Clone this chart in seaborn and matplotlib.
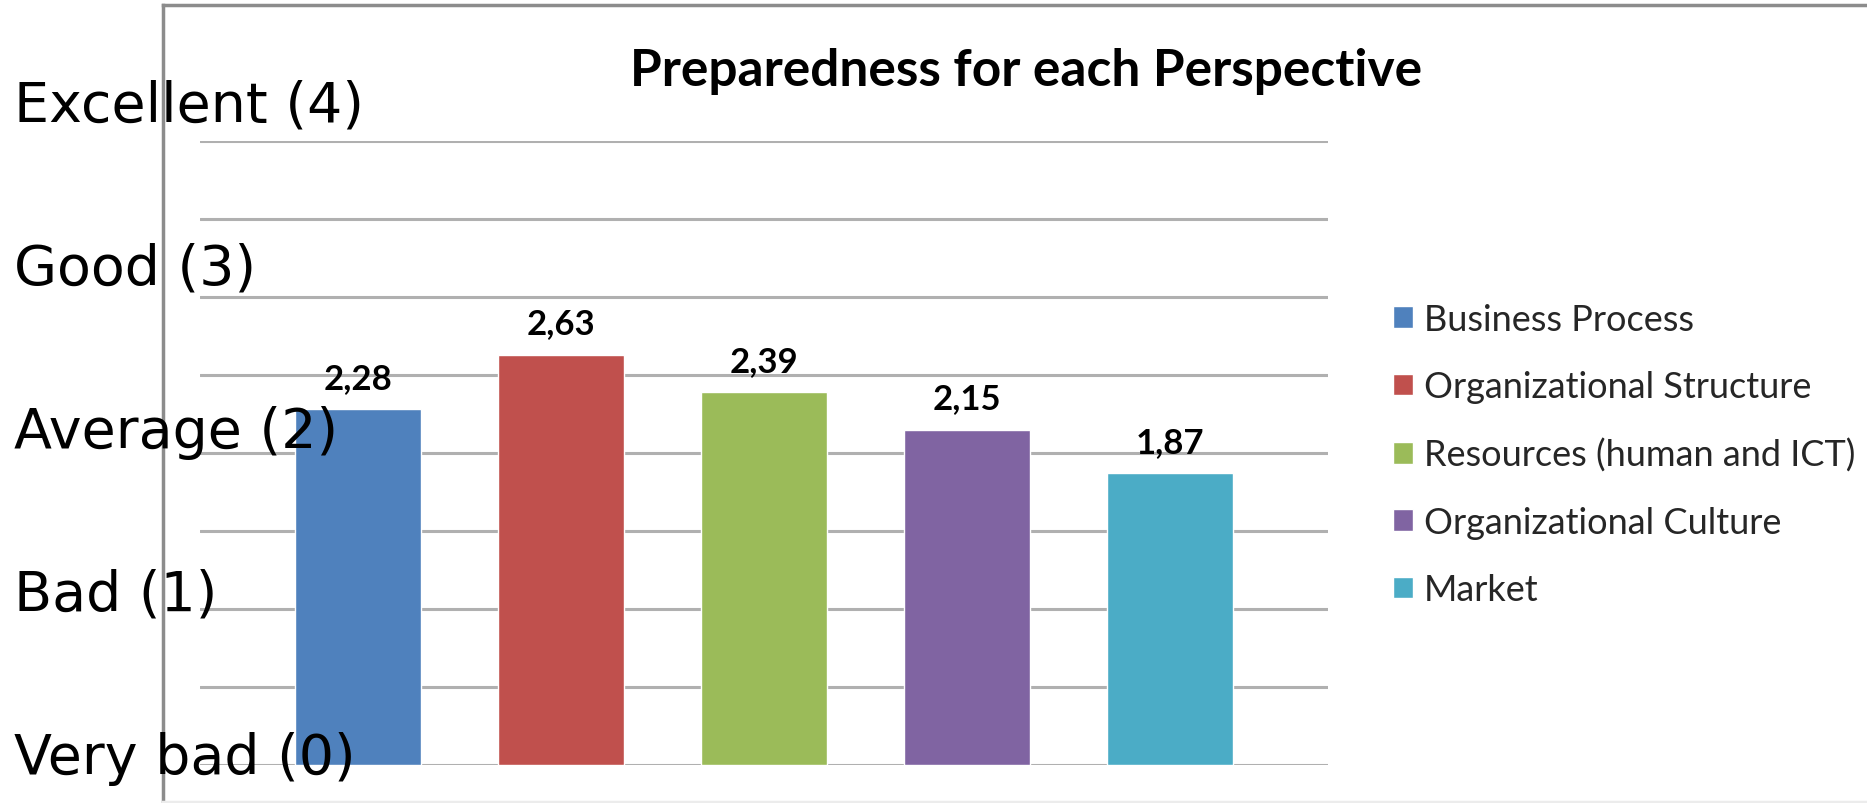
import numpy as np
import pandas as pd
import seaborn as sns
from matplotlib import pyplot as plt

sns.set_style("white")
plt.rcParams['font.family'] = ['Lato', 'DejaVu Sans']

# data
perspectives = ["Business Process", "Organizational Structure",
                "Resources (human and ICT)", "Organizational Culture", "Market"]
scores = [2.28, 2.63, 2.39, 2.15, 1.87]
colors = ["#4F81BD", "#C0504D", "#9BBB59", "#8064A2", "#4BACC6"]
level_names = ["Very bad (0)", "Bad (1)", "Average (2)", "Good (3)", "Excellent (4)"]
level_values = [0, 1, 2, 3, 4]

df = pd.DataFrame({"perspective": perspectives, "score": scores})

W, H = 1867, 804
fig = plt.figure(figsize=(W / 100, H / 100), dpi=100)

# outer chart frame (excel style box)
frame = fig.add_axes([163 / W, 1 - 803 / H, 1.0, (803 - 6) / H], zorder=0)
frame.set_xticks([])
frame.set_yticks([])
for s in frame.spines.values():
    s.set_color("#8c8c8c")
    s.set_linewidth(2.5)
frame.spines["bottom"].set_color("#ececec")

ax = fig.add_axes([200 / W, 38.4 / H, (1328 - 200) / W, 623.3 / H], zorder=1)
ax.patch.set_alpha(0)
sns.barplot(data=df, x="perspective", y="score", hue="perspective",
            palette=colors, width=0.62, ax=ax, legend=True, saturation=1)
ax.set_yticks(np.arange(0, 4.01, 0.5))
ax.set_ylim(0, 4)
ax.set_xlim(-0.78, 4.78)
ax.yaxis.grid(True, color="#b0b0b0", linewidth=2.2)
ax.set_axisbelow(True)
ax.tick_params(left=False, bottom=False, labelleft=False, labelbottom=False)
ax.set_xlabel("")
ax.set_ylabel("")
sns.despine(ax=ax, left=True, bottom=True)

for c in ax.containers:
    ax.bar_label(c, labels=[f"{v:.2f}".replace(".", ",") for v in c.datavalues],
                 padding=11, fontsize=25, fontweight="bold", color="black")

sns.move_legend(ax, "center left", bbox_to_anchor=(1393 / W, 0.4334),
                bbox_transform=fig.transFigure, frameon=False, title=None,
                fontsize=26, labelspacing=0.95, handlelength=0.55,
                handleheight=0.55, handletextpad=0.3, borderpad=0,
                borderaxespad=0)

fig.text(1026 / W, 0.911, "Preparedness for each Perspective", ha="center",
         va="center", fontsize=37, fontweight="bold", color="black")

# overlaid level names on their own scale (full figure height)
lab = fig.add_axes([200 / W, 0, 0.01, 1], zorder=3)
lab.patch.set_alpha(0)
lab.set_xticks([])
lab.set_yticks(level_values)
lab.set_yticklabels(level_names, family="DejaVu Sans", fontsize=40,
                    ha="left", color="black")
lab.set_ylim(-0.316, 4.620)
lab.tick_params(axis="y", length=0, pad=134)
for s in lab.spines.values():
    s.set_visible(False)

plt.savefig("out.png", dpi=100)
